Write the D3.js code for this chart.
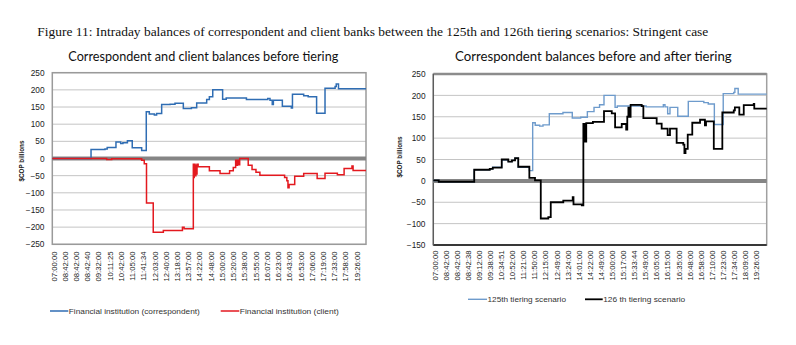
<!DOCTYPE html>
<html><head><meta charset="utf-8">
<script src="https://cdn.jsdelivr.net/npm/d3@7"></script>
<style>body{margin:0;background:#fff}svg{display:block}</style>
</head><body>
<svg id="c" width="796" height="345"></svg>
<script>
// ---------- DATA ----------
const figureTitle = "Figure 11: Intraday balances of correspondent and client banks between the 125th and 126th tiering scenarios: Stringent case";
const leftTitle = "Correspondent and client balances before tiering";
const rightTitle = "Correspondent balances before and after tiering";
const yAxisLabel = "$COP billions";

const leftLabels = ["07:00:00","08:42:00","08:42:00","08:42:40","09:32:00","10:11:25","10:42:00","11:05:00","11:41:34","12:03:00","12:40:00","13:18:00","13:57:00","14:22:00","14:48:00","15:00:00","15:20:00","15:38:00","15:55:00","16:07:00","16:23:00","16:43:00","16:53:00","17:06:00","17:19:00","17:33:00","17:58:00","19:26:00"];
const rightLabels = ["07:00:00","08:42:00","08:42:00","08:42:38","09:12:00","09:38:00","10:34:51","10:52:00","11:21:00","11:50:00","12:15:00","12:49:00","13:24:00","14:01:00","14:22:00","14:49:00","15:00:00","15:17:00","15:33:44","15:49:00","16:05:00","16:15:00","16:35:00","16:48:00","16:58:00","17:10:00","17:23:00","17:34:00","18:09:00","19:26:00"];

const leftTicks = [250,200,150,100,50,0,-50,-100,-150,-200,-250];
const rightTicks = [250,200,150,100,50,0,-50,-100,-150];

// step series: [position in label units, balance]
const correspondentBefore = [[-0.09,0],[3.36,26],[4.6,28],[4.8,32],[5.58,48],[6.0,44],[6.2,46],[6.6,52],[7.03,31],[7.87,23],[8.28,136],[8.55,130],[9.0,127],[9.2,131],[9.65,157],[10.4,158],[10.84,161],[11.58,146],[12.3,148],[12.77,162],[13.66,172],[13.9,180],[14.2,200],[15.08,173],[15.4,176],[17.2,172],[19.1,175],[19.3,170],[19.5,157],[19.6,170],[20.4,152],[21.2,147],[21.3,187],[22.3,183],[22.7,180],[23.45,132],[24.2,205],[25.1,210],[25.2,217],[25.4,203],[27.85,203]];
const clientBefore = [[-0.09,0],[4.75,-3],[5.2,-1],[7.87,-5],[8.1,-15],[8.3,-130],[8.9,-215],[9.8,-210],[11.5,-200],[11.65,-205],[12.47,-17],[12.5,-55],[12.55,-17],[12.62,-50],[12.7,-20],[12.75,-45],[12.8,-17],[12.9,-24],[13.9,-36],[14.85,-44],[15.7,-36],[16.03,-26],[16.24,-5],[16.3,-20],[16.4,-5],[16.5,-18],[16.6,0],[17.36,-20],[17.7,-32],[18.05,-40],[18.4,-49],[20.6,-55],[20.8,-65],[20.9,-85],[21.0,-76],[21.5,-52],[22.3,-44],[23.5,-58],[24.2,-43],[25.3,-47],[25.9,-29],[26.6,-22],[26.7,-35],[27.85,-35]];
const tiering125 = [[-0.09,1],[0.4,-2],[3.6,26],[5.0,28],[5.27,32],[6.08,49],[6.67,45],[7.0,48],[7.28,53],[7.57,32],[8.57,24],[8.87,136],[9.1,130],[9.5,128],[9.8,131],[10.37,157],[11.6,160],[12.44,147],[13.2,149],[13.8,162],[14.4,172],[14.9,178],[15.3,200],[16.3,172],[16.5,175],[19.1,173],[20.65,178],[20.8,173],[21.04,157],[21.25,172],[21.95,151],[22.9,186],[24.3,183],[24.7,180],[25.25,132],[26.05,204],[27.0,207],[27.1,216],[27.4,203],[29.97,203]];
const tiering126 = [[-0.09,1],[0.4,-2],[3.6,26],[5.0,28],[5.27,31],[6.08,50],[6.67,45],[7.0,48],[7.28,53],[7.57,33],[8.57,7],[9.08,1],[9.6,-88],[10.28,-85],[10.5,-50],[11.63,-46],[12.48,-38],[12.55,-55],[13.3,-57],[13.44,133],[13.6,92],[13.7,135],[14.3,138],[15.3,163],[16.0,158],[16.3,125],[16.9,133],[17.3,120],[17.4,150],[17.5,171],[17.6,150],[17.7,178],[18.7,175],[18.85,147],[20.05,134],[20.5,122],[21.04,107],[21.25,122],[21.85,89],[22.45,85],[22.55,65],[22.65,75],[22.85,108],[23.26,136],[23.96,143],[24.4,130],[24.5,139],[25.2,75],[25.97,160],[27.0,165],[27.1,172],[27.5,155],[27.9,177],[28.8,180],[28.85,169],[29.97,169]];

// ---------- DRAW ----------
const svg = d3.select("#c");
const FONT = "'Liberation Sans', Arial, sans-serif";

svg.append("text").attr("x", 37.3).attr("y", 36)
  .attr("font-family", "'Liberation Serif','DejaVu Serif',serif").attr("font-size", 12)
  .attr("textLength", 671).attr("lengthAdjust", "spacingAndGlyphs")
  .attr("fill", "#111").text(figureTitle);

function panel(o) {
  const g = svg.append("g");
  const x = d3.scaleLinear().domain(o.xDomain).range([o.left, o.right]);
  const y = d3.scaleLinear().domain(o.yDomain).range([o.bottom, o.top]);

  g.append("text").attr("x", (o.titleX0 + o.titleX1) / 2).attr("y", 61)
    .attr("text-anchor", "middle").attr("font-family", "Lato, 'Liberation Sans', sans-serif")
    .attr("font-size", 14).attr("textLength", o.titleX1 - o.titleX0).attr("lengthAdjust", "spacingAndGlyphs")
    .attr("fill", "#111").text(o.title);

  g.append("g").selectAll("line").data(o.ticks.filter(t => t !== 0)).join("line")
    .attr("x1", o.left).attr("x2", o.right)
    .attr("y1", d => y(d)).attr("y2", d => y(d))
    .attr("stroke", "#c4c4c4").attr("stroke-width", 1);

  const ya = d3.axisLeft(y).tickValues(o.ticks).tickSize(0).tickPadding(0).tickFormat(d3.format("d"));
  const yg = g.append("g").attr("transform", `translate(${o.yLabelX},0)`).call(ya);
  yg.select(".domain").remove();
  yg.selectAll("text").attr("font-family", FONT).attr("font-size", 8.3).attr("fill", "#222");

  const xa = d3.axisBottom(x).tickValues(d3.range(o.labels.length)).tickSize(0).tickPadding(0)
    .tickFormat(i => o.labels[i]);
  const xg = g.append("g").attr("transform", `translate(0,${o.xLabelY})`).call(xa);
  xg.select(".domain").remove();
  xg.selectAll("text").attr("font-family", FONT).attr("font-size", 7.7).attr("fill", "#222")
    .attr("transform", "rotate(-90)").attr("text-anchor", "end").attr("x", 0).attr("y", 0).attr("dy", "0.35em");

  g.append("rect").attr("x", o.left).attr("y", o.top).attr("width", o.right - o.left).attr("height", o.bottom - o.top)
    .attr("fill", "none").attr("stroke", o.frameColor).attr("stroke-width", 1.5);
  if (o.topThick) g.append("line").attr("x1", o.left).attr("x2", o.right).attr("y1", o.top).attr("y2", o.top)
    .attr("stroke", "#8c8c8c").attr("stroke-width", 2.5);
  if (o.bottomAxis) {
    g.append("line").attr("x1", o.left).attr("x2", o.right).attr("y1", o.bottom).attr("y2", o.bottom)
      .attr("stroke", "#111").attr("stroke-width", 1.5);
    g.append("line").attr("x1", o.left).attr("x2", o.left).attr("y1", o.top).attr("y2", o.bottom)
      .attr("stroke", "#555").attr("stroke-width", 1.2);
  }

  g.append("line").attr("x1", o.left).attr("x2", o.right).attr("y1", y(0)).attr("y2", y(0))
    .attr("stroke", "#858585").attr("stroke-width", 4);

  const line = d3.line().x(d => x(d[0])).y(d => y(d[1])).curve(d3.curveStepAfter);
  o.series.forEach(s => {
    g.append("path").datum(s.data).attr("d", line).attr("fill", "none")
      .attr("stroke", s.color).attr("stroke-width", s.width).attr("stroke-linejoin", "miter");
  });

  g.append("text").attr("transform", `translate(${o.yTitleX},${o.yTitleY}) rotate(-90)`)
    .attr("text-anchor", "middle").attr("dy", "0.35em").attr("font-family", FONT).attr("font-weight", "bold")
    .attr("font-size", 6.8).attr("textLength", 41).attr("lengthAdjust", "spacingAndGlyphs")
    .attr("fill", "#222").text(yAxisLabel);

  o.legend.forEach(l => {
    g.append("line").attr("x1", l.x0).attr("x2", l.x1).attr("y1", o.legendY).attr("y2", o.legendY)
      .attr("stroke", l.color).attr("stroke-width", l.width);
    g.append("text").attr("x", l.x1 + 0.5).attr("y", o.legendY).attr("dy", "0.35em")
      .attr("font-family", FONT).attr("font-size", 8).attr("fill", "#333")
      .attr("textLength", l.tw).attr("lengthAdjust", "spacingAndGlyphs").text(l.name);
  });
}

panel({
  left: 52.3, right: 366, top: 72.7, bottom: 244.3,
  xDomain: [-0.09, 27.85], yDomain: [-250, 250],
  ticks: leftTicks, labels: leftLabels,
  yLabelX: 44.5, xLabelY: 251.5,
  title: leftTitle, titleX0: 68.3, titleX1: 338.3,
  frameColor: "#9a9a9a", topThick: false, bottomAxis: false,
  yTitleX: 21.7, yTitleY: 161,
  series: [
    {data: correspondentBefore, color: "#2f6db3", width: 1.5},
    {data: clientBefore, color: "#e3191f", width: 1.5}
  ],
  legendY: 311,
  legend: [
    {name: "Financial institution (correspondent)", color: "#2f6db3", width: 1.5, x0: 50, x1: 68.3, tw: 131},
    {name: "Financial institution (client)", color: "#e3191f", width: 1.5, x0: 220.7, x1: 239.3, tw: 99}
  ]
});

panel({
  left: 433.3, right: 766.7, top: 74, bottom: 245,
  xDomain: [-0.09, 29.97], yDomain: [-150, 250],
  ticks: rightTicks, labels: rightLabels,
  yLabelX: 425.5, xLabelY: 250.5,
  title: rightTitle, titleX0: 455, titleX1: 731.7,
  frameColor: "#a0a0a0", topThick: true, bottomAxis: true,
  yTitleX: 399.3, yTitleY: 157,
  series: [
    {data: tiering125, color: "#6e9bcc", width: 1.4},
    {data: tiering126, color: "#000000", width: 1.8}
  ],
  legendY: 299.3,
  legend: [
    {name: "125th tiering scenario", color: "#6e9bcc", width: 1.4, x0: 468, x1: 487, tw: 78.5},
    {name: "126 th tiering scenario", color: "#000000", width: 1.8, x0: 585, x1: 602.7, tw: 82}
  ]
});
</script>
</body></html>
